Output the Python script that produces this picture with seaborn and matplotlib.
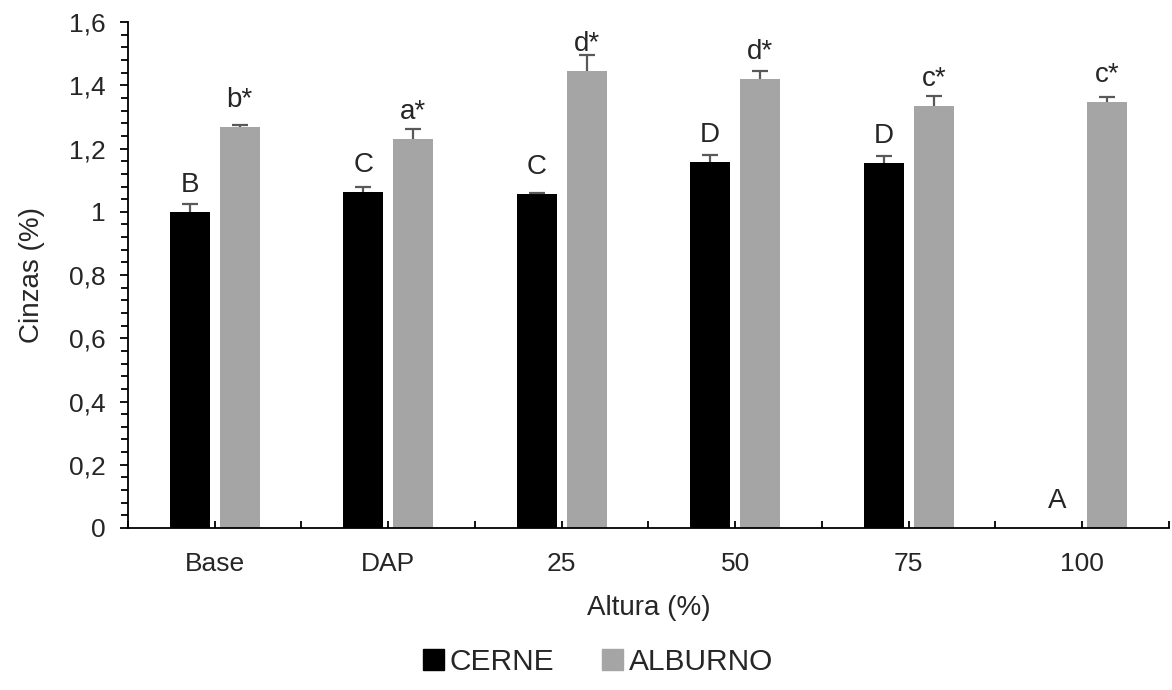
import numpy as np
import pandas as pd
import seaborn as sns
import matplotlib.pyplot as plt
from matplotlib.ticker import FuncFormatter, MultipleLocator, FixedLocator

# values
alturas = ['Base', 'DAP', '25', '50', '75', '100']
cerne = [1.00, 1.063, 1.056, 1.158, 1.155, 0.0]
cerne_err = [0.024, 0.015, 0.005, 0.023, 0.022, 0.0]
alburno = [1.268, 1.230, 1.445, 1.420, 1.336, 1.347]
alburno_err = [0.008, 0.033, 0.052, 0.025, 0.029, 0.017]
cerne_letras = ['B', 'C', 'C', 'D', 'D', 'A']
alburno_letras = ['b*', 'a*', 'd*', 'd*', 'c*', 'c*']

df = pd.DataFrame({
    'Altura': alturas * 2,
    'Cinzas': cerne + alburno,
    'Grupo': ['CERNE'] * len(alturas) + ['ALBURNO'] * len(alturas),
})

sns.set_style('white')
plt.rcParams['font.family'] = ['Liberation Sans', 'DejaVu Sans']

fig, ax = plt.subplots(figsize=(11.72, 6.9), dpi=100)
fig.subplots_adjust(left=0.1092, right=0.9974, top=0.968, bottom=0.2348)

sns.barplot(data=df, x='Altura', y='Cinzas', hue='Grupo', order=alturas,
            hue_order=['CERNE', 'ALBURNO'], palette=['#000000', '#A5A5A5'],
            width=0.576, gap=0.2, errorbar=None, legend=False, ax=ax,
            saturation=1, linewidth=0)

# error bars (plus only) and letters above each bar
n = len(alturas)
patches = ax.patches
series = [(cerne, cerne_err, cerne_letras), (alburno, alburno_err, alburno_letras)]
for s, (vals, errs, letras) in enumerate(series):
    for i in range(n):
        p = patches[s * n + i]
        xc = p.get_x() + p.get_width() / 2
        if errs[i] > 0:
            eb = ax.errorbar(xc, vals[i], yerr=[[0], [errs[i]]], fmt='none',
                             ecolor='#595959', elinewidth=1.6, capsize=6, capthick=1.6)
            eb[1][0].set_visible(False)
        # labels sit at a fixed distance above the bar, like Excel data labels
        ax.annotate(letras[i], (xc, vals[i]), xytext=(0, 10),
                    textcoords='offset points', ha='center', va='bottom',
                    fontsize=20)

ax.set_ylim(0, 1.6)
ax.set_xlim(-0.5, n - 0.5)
ax.yaxis.set_major_locator(MultipleLocator(0.2))
ax.yaxis.set_minor_locator(MultipleLocator(0.04))
ax.yaxis.set_major_formatter(FuncFormatter(lambda v, pos: f'{v:.1f}'.rstrip('0').rstrip('.').replace('.', ',')))
ax.xaxis.set_minor_locator(FixedLocator(np.arange(-0.5, n, 1.0)))

ax.tick_params(axis='y', which='major', direction='out', length=6, width=1.3,
               color='black', left=True, labelsize=19, pad=10)
ax.tick_params(axis='y', which='minor', direction='out', length=5, width=1.3,
               color='black', left=True)
ax.tick_params(axis='x', which='both', direction='in', length=5, width=1.3,
               color='black', bottom=True, labelsize=19, pad=17)

for side in ['top', 'right']:
    ax.spines[side].set_visible(False)
for side in ['left', 'bottom']:
    ax.spines[side].set_color('black')
    ax.spines[side].set_linewidth(1.3)

ax.set_xlabel('Altura (%)', fontsize=20, labelpad=14)
ax.set_ylabel('Cinzas (%)', fontsize=20, labelpad=17)

handles = [plt.Rectangle((0, 0), 1, 1, color='#000000'),
           plt.Rectangle((0, 0), 1, 1, color='#A5A5A5')]
fig.legend(handles, ['CERNE', 'ALBURNO'], loc='center', ncol=2,
           bbox_to_anchor=(598 / 1172, 1 - 662 / 690), frameon=False,
           fontsize=21.5, handlelength=0.7, handleheight=0.7, handletextpad=0.2,
           columnspacing=1.6)

fig.savefig('out.png', dpi=100)
